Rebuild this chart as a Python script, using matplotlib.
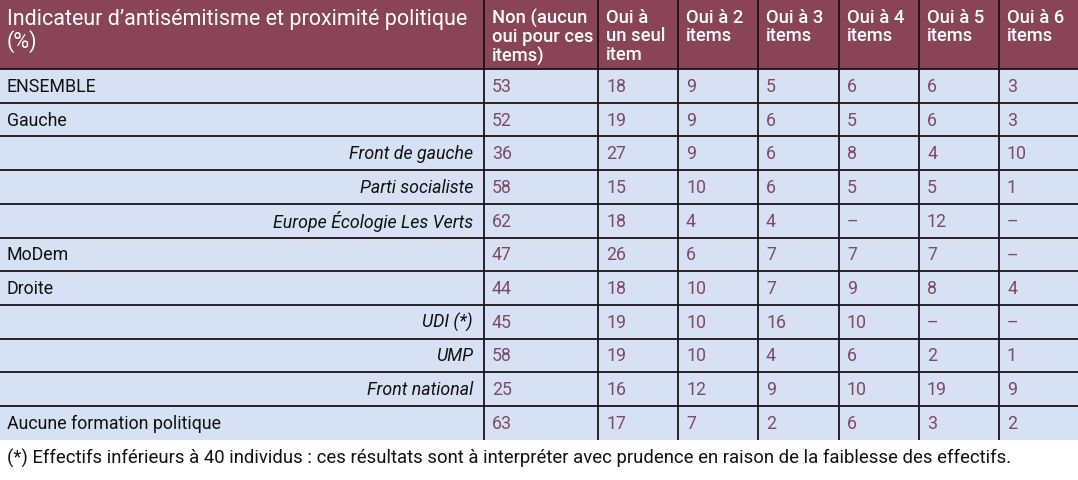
import matplotlib.pyplot as plt
from matplotlib.patches import Rectangle

# Data
title = "Indicateur d’antisémitisme et proximité politique\n(%)"
col_headers = ["Non (aucun\noui pour ces\nitems)", "Oui à\nun seul\nitem", "Oui à 2\nitems",
               "Oui à 3\nitems", "Oui à 4\nitems", "Oui à 5\nitems", "Oui à 6\nitems"]
row_labels = ["ENSEMBLE", "Gauche", "Front de gauche", "Parti socialiste",
              "Europe Écologie Les Verts", "MoDem", "Droite", "UDI (*)", "UMP",
              "Front national", "Aucune formation politique"]
is_party = [False, False, True, True, True, False, False, True, True, True, False]
values = [
    [53, 18, 9, 5, 6, 6, 3],
    [52, 19, 9, 6, 5, 6, 3],
    [36, 27, 9, 6, 8, 4, 10],
    [58, 15, 10, 6, 5, 5, 1],
    [62, 18, 4, 4, None, 12, None],
    [47, 26, 6, 7, 7, 7, None],
    [44, 18, 10, 7, 9, 8, 4],
    [45, 19, 10, 16, 10, None, None],
    [58, 19, 10, 4, 6, 2, 1],
    [25, 16, 12, 9, 10, 19, 9],
    [63, 17, 7, 2, 6, 3, 2],
]
footnote = ("(*) Effectifs inférieurs à 40 individus : ces résultats sont à interpréter "
            "avec prudence en raison de la faiblesse des effectifs.")

# Layout (pixel space)
W, H = 1078, 481
col_edges = [0, 484, 598, 678, 758, 839, 919, 999, W]
header_h = 70
row_h = 33.7

header_bg = "#8a4457"
row_bg = "#d6e2f4"
num_color = "#7d4a64"
line_color = "#1a1216"

plt.rcParams['font.family'] = ['Roboto', 'DejaVu Sans']

fig = plt.figure(figsize=(W / 100, H / 100), dpi=100)
ax = fig.add_axes([0, 0, 1, 1])
ax.set_xlim(0, W)
ax.set_ylim(H, 0)
ax.axis("off")

table_bottom = header_h + row_h * len(row_labels)

# backgrounds
ax.add_patch(Rectangle((0, 0), W, header_h, color=header_bg, lw=0))
ax.add_patch(Rectangle((0, header_h), W, table_bottom - header_h, color=row_bg, lw=0))

# header texts
ax.text(7, 9, title, color="white", fontsize=15.5, va="top", ha="left", linespacing=1.0)
for j, h in enumerate(col_headers):
    ax.text(col_edges[j + 1] + 8, 9, h, color="white", fontsize=13.2, fontweight="medium",
            va="top", ha="left", linespacing=1.02)

# rows
for i, (lab, party, vals) in enumerate(zip(row_labels, is_party, values)):
    yc = header_h + row_h * (i + 0.5)
    if party:
        ax.text(col_edges[1] - 11, yc, lab, fontsize=12.8, style="italic",
                ha="right", va="center", color="#111111")
    else:
        ax.text(7, yc, lab, fontsize=12.8, ha="left", va="center", color="#111111")
    for j, v in enumerate(vals):
        s = "–" if v is None else str(v)
        ax.text(col_edges[j + 1] + 8, yc, s, fontsize=12.8, ha="left", va="center",
                color=num_color)

# grid lines
for i in range(len(row_labels)):
    y = header_h + row_h * i
    ax.plot([0, W], [y, y], color=line_color, lw=1.3, solid_capstyle="butt")
for x in col_edges[1:-1]:
    ax.plot([x, x], [0, table_bottom], color=line_color, lw=1.3, solid_capstyle="butt")

ax.text(7, 458, footnote, fontsize=13.3, ha="left", va="center", color="#111111")

fig.savefig("out.png", dpi=100)
